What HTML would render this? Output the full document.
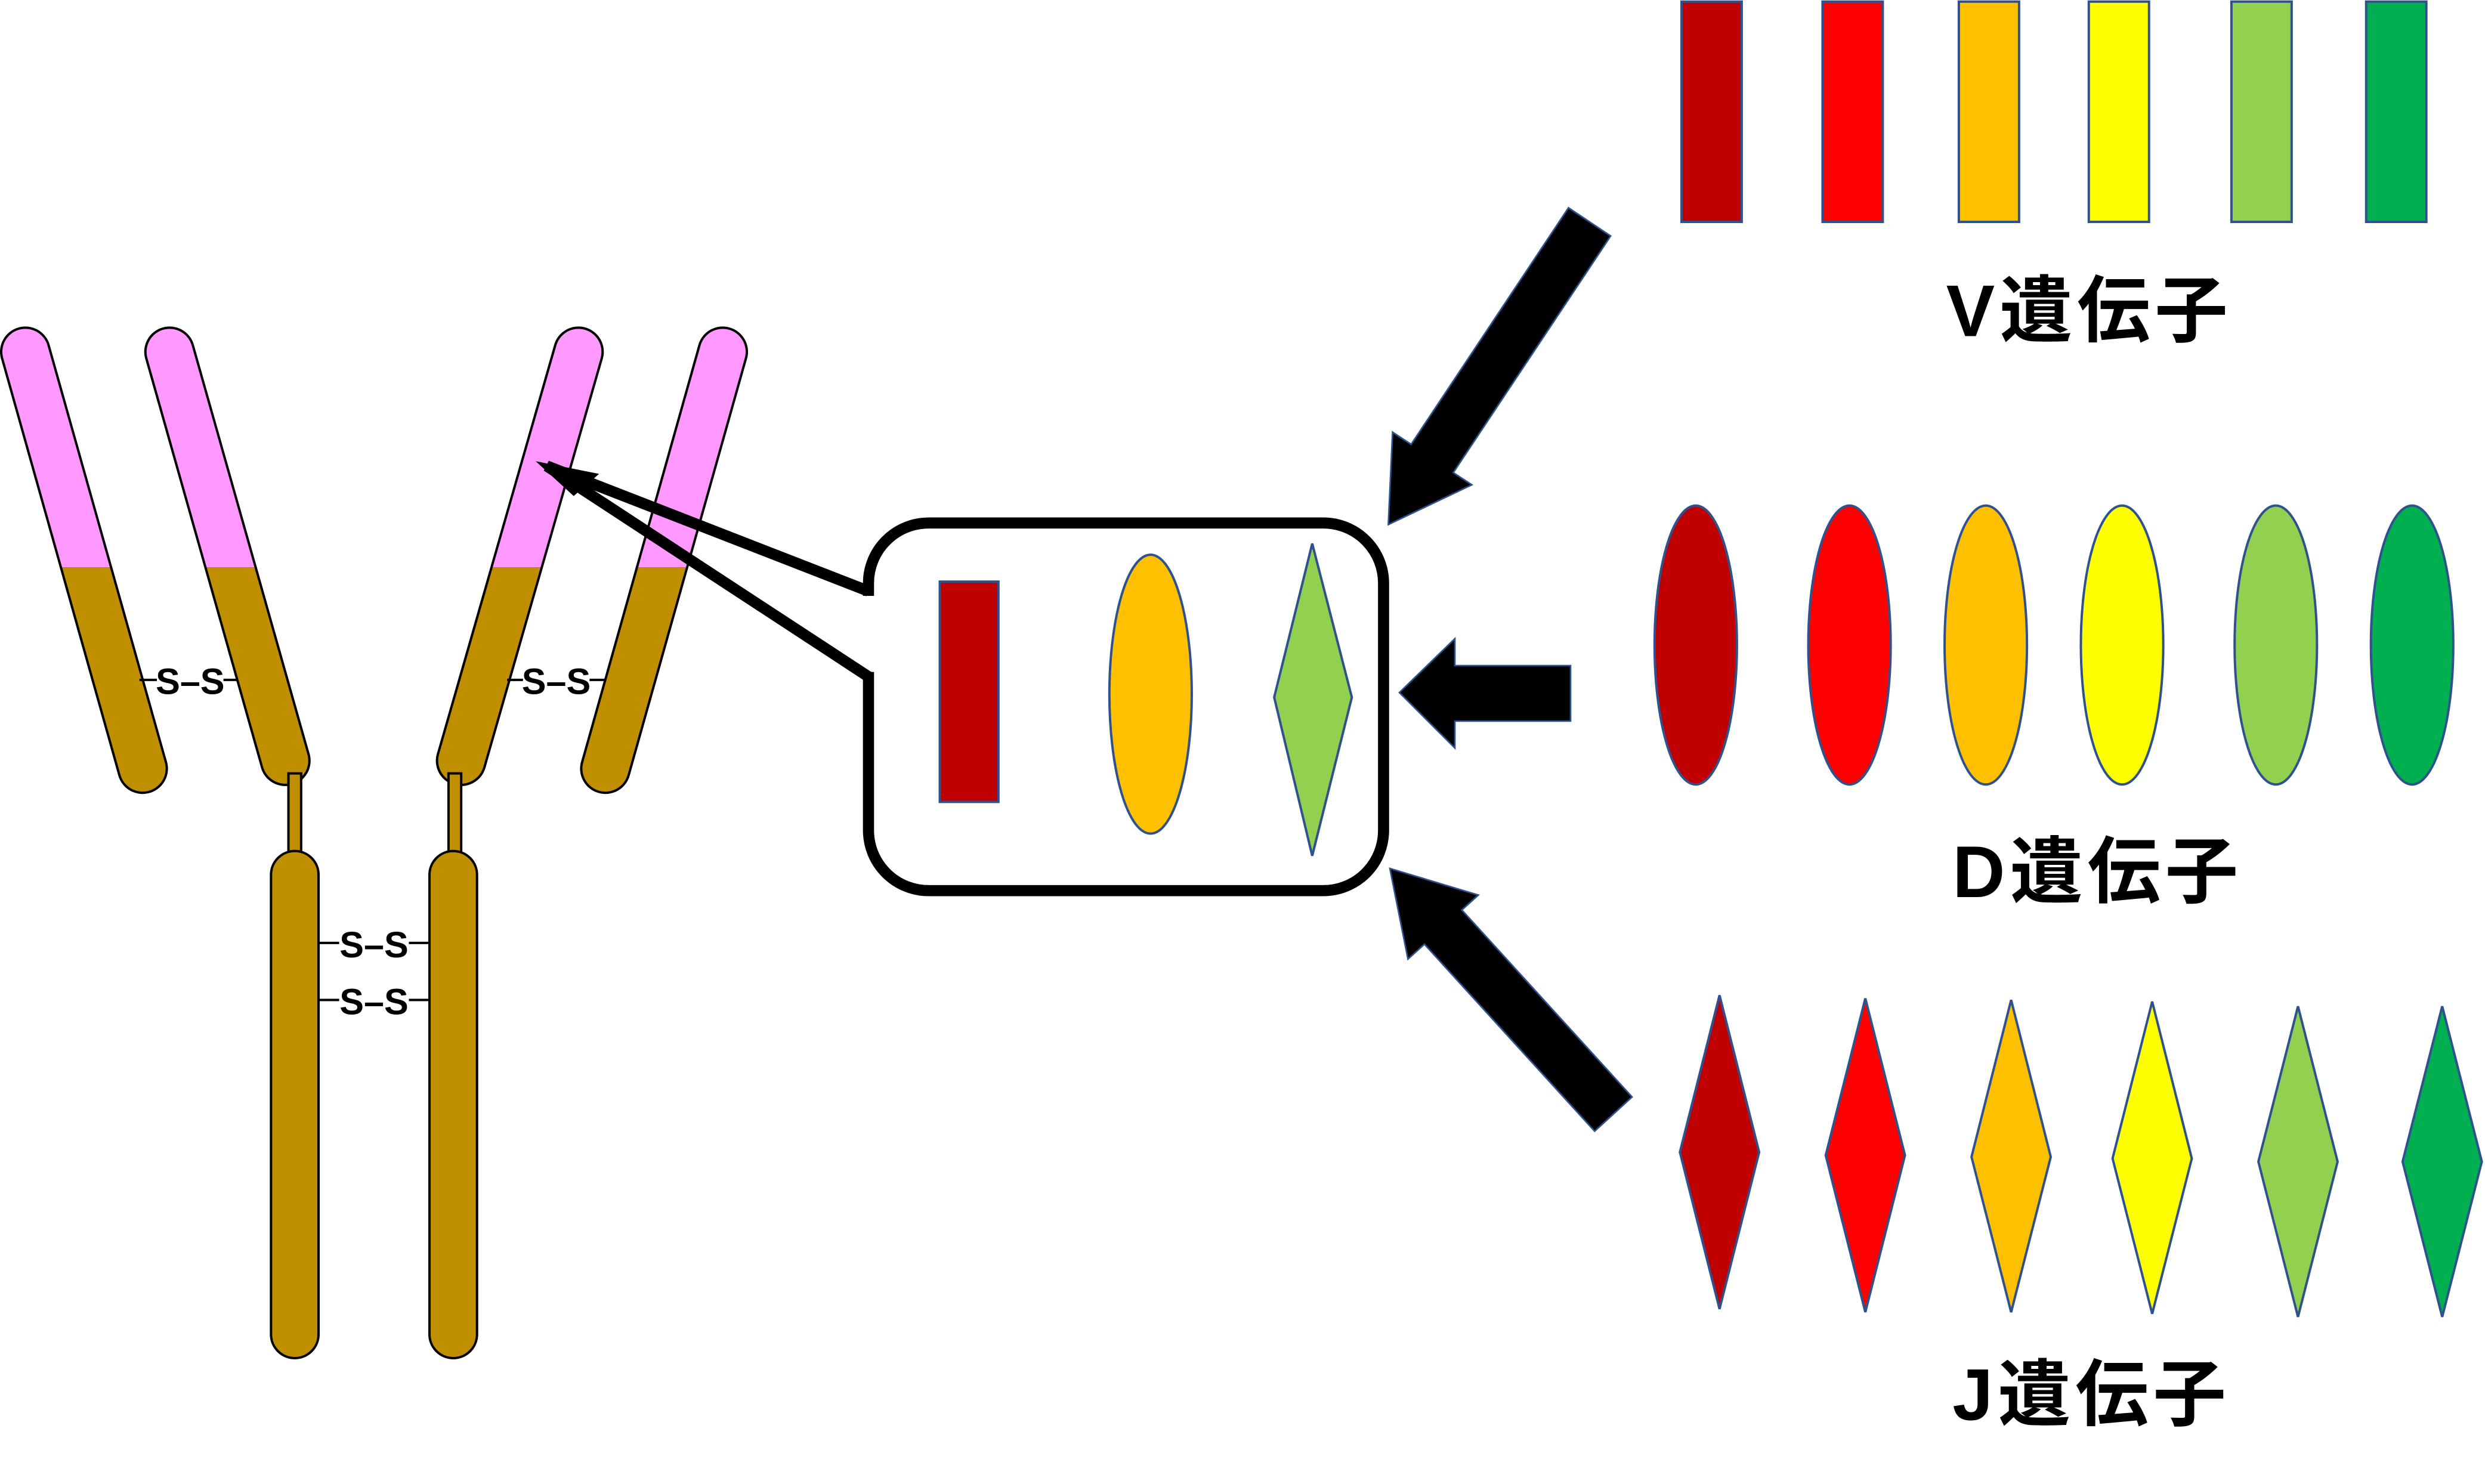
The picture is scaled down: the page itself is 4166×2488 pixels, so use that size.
<!DOCTYPE html>
<html><head><meta charset="utf-8"><style>
html,body{margin:0;padding:0;background:#fff;}
svg{display:block;}
text{font-family:"Liberation Sans","Noto Sans CJK JP",sans-serif;}
</style></head><body>
<svg width="4166" height="2488" viewBox="0 0 1568 936.4" xmlns="http://www.w3.org/2000/svg">
<defs>
 <clipPath id="top"><rect x="0" y="0" width="600" height="358"/></clipPath>
 <clipPath id="bot"><rect x="0" y="358" width="600" height="600"/></clipPath>
</defs>
<rect width="1568" height="936.4" fill="#fff"/>
<g stroke-linecap="round">
 <g stroke="#000" stroke-width="32">
  <line x1="16" y1="222" x2="90" y2="485"/>
  <line x1="107" y1="222" x2="180" y2="480"/>
  <line x1="365" y1="222" x2="291" y2="480"/>
  <line x1="456" y1="222" x2="382" y2="485"/>
 </g>
 <g stroke="#FF99FF" stroke-width="29" clip-path="url(#top)">
  <line x1="16" y1="222" x2="90" y2="485"/>
  <line x1="107" y1="222" x2="180" y2="480"/>
  <line x1="365" y1="222" x2="291" y2="480"/>
  <line x1="456" y1="222" x2="382" y2="485"/>
 </g>
 <g stroke="#BF8F00" stroke-width="29" clip-path="url(#bot)">
  <line x1="16" y1="222" x2="90" y2="485"/>
  <line x1="107" y1="222" x2="180" y2="480"/>
  <line x1="365" y1="222" x2="291" y2="480"/>
  <line x1="456" y1="222" x2="382" y2="485"/>
 </g>
</g>
<rect x="182" y="488" width="8" height="55" fill="#BF8F00" stroke="#000" stroke-width="1.5"/>
<rect x="283" y="488" width="8" height="55" fill="#BF8F00" stroke="#000" stroke-width="1.5"/>
<rect x="171" y="537" width="30" height="320" rx="15" fill="#BF8F00" stroke="#000" stroke-width="1.5"/>
<rect x="271" y="537" width="30" height="320" rx="15" fill="#BF8F00" stroke="#000" stroke-width="1.5"/>
<g font-size="23" font-weight="bold" text-anchor="middle">
 <line x1="88" y1="429" x2="150" y2="429" stroke="#000" stroke-width="1.5"/>
 <rect x="99" y="417" width="42" height="24" fill="#fff"/>
 <text x="120" y="438">S–S</text>
 <line x1="320" y1="429" x2="382" y2="429" stroke="#000" stroke-width="1.5"/>
 <rect x="330" y="417" width="42" height="24" fill="#fff"/>
 <text x="351" y="438">S–S</text>
 <line x1="201" y1="595" x2="271" y2="595" stroke="#000" stroke-width="1.5"/>
 <rect x="214" y="583" width="44" height="24" fill="#fff"/>
 <text x="236" y="604">S–S</text>
 <line x1="201" y1="631" x2="271" y2="631" stroke="#000" stroke-width="1.5"/>
 <rect x="214" y="619" width="44" height="24" fill="#fff"/>
 <text x="236" y="640">S–S</text>
</g>
<rect x="548" y="330" width="325" height="232" rx="38" fill="none" stroke="#000" stroke-width="7"/>
<rect x="543" y="376" width="10" height="48" fill="#fff"/>
<path d="M548,373 L345,294 L548,427" fill="none" stroke="#000" stroke-width="7" stroke-linejoin="bevel"/>
<polygon points="338,291 378,299 362,313" fill="#000"/>
<rect x="593" y="367" width="37" height="139" fill="#C00000" stroke="#2F528F" stroke-width="1.5"/>
<ellipse cx="726" cy="438" rx="26" ry="88" fill="#FFC000" stroke="#2F528F" stroke-width="1.5"/>
<polygon points="828,343 853,440 828,540 804,440" fill="#92D050" stroke="#2F528F" stroke-width="1.5"/>
<polygon points="989.7,131.1 890.4,280.4 878.7,272.7 876,331 928.7,305.9 917,298.2 1016.3,148.9" fill="#000" stroke="#2F528F" stroke-width="1"/>
<polygon points="991,420 918,420 918,403 883,437 918,472 918,455 991,455" fill="#000" stroke="#2F528F" stroke-width="1"/>
<polygon points="1029.8,692.2 922.4,574.2 932.8,564.8 877,548 888.4,605.2 898.8,595.8 1006.2,713.8" fill="#000" stroke="#2F528F" stroke-width="1"/>
<g stroke="#2F528F" stroke-width="1.5">
 <rect x="1061" y="1" width="38" height="139" fill="#C00000"/>
 <rect x="1150" y="1" width="38" height="139" fill="#FF0000"/>
 <rect x="1236" y="1" width="38" height="139" fill="#FFC000"/>
 <rect x="1318" y="1" width="38" height="139" fill="#FFFF00"/>
 <rect x="1408" y="1" width="38" height="139" fill="#92D050"/>
 <rect x="1493" y="1" width="38" height="139" fill="#00B050"/>
 <ellipse cx="1070" cy="407" rx="26" ry="88" fill="#C00000"/>
 <ellipse cx="1167" cy="407" rx="26" ry="88" fill="#FF0000"/>
 <ellipse cx="1253" cy="407" rx="26" ry="88" fill="#FFC000"/>
 <ellipse cx="1339" cy="407" rx="26" ry="88" fill="#FFFF00"/>
 <ellipse cx="1436" cy="407" rx="26" ry="88" fill="#92D050"/>
 <ellipse cx="1522" cy="407" rx="26" ry="88" fill="#00B050"/>
 <polygon points="1085,628 1110,727 1085,826 1060,727" fill="#C00000"/>
 <polygon points="1177,630 1202,729 1177,828 1152,729" fill="#FF0000"/>
 <polygon points="1269,631 1294,730 1269,828 1244,730" fill="#FFC000"/>
 <polygon points="1358,632 1383,731 1358,829 1333,731" fill="#FFFF00"/>
 <polygon points="1450,635 1475,733 1450,831 1425,733" fill="#92D050"/>
 <polygon points="1541,635 1566,733 1541,831 1516,733" fill="#00B050"/>
</g>
<g font-size="46" font-weight="bold" fill="#000" letter-spacing="3">
 <text x="1228" y="212">V遺伝子</text>
 <text x="1232" y="566">D遺伝子</text>
 <text x="1232" y="896">J遺伝子</text>
</g>
</svg>
</body></html>
